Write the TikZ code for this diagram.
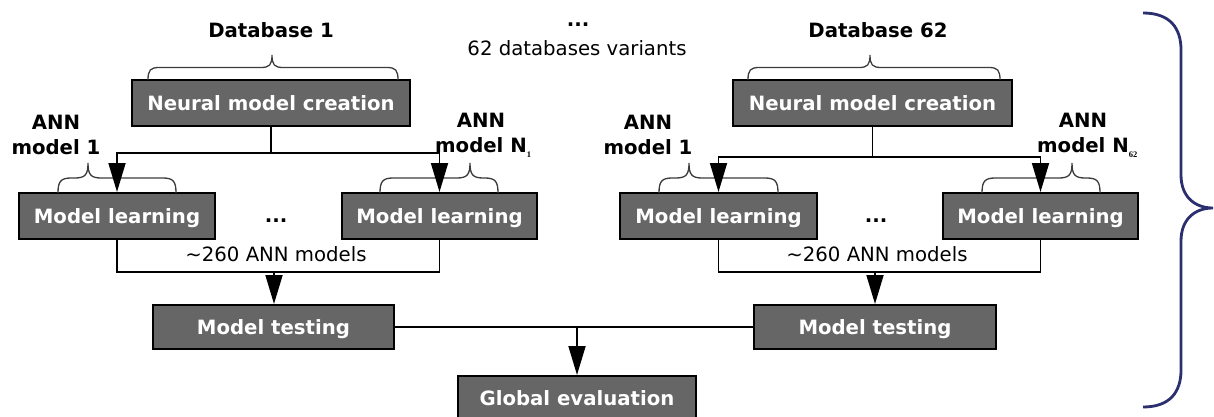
\documentclass[tikz,border=0pt]{standalone}
\usepackage{fontspec}
\setmainfont{DejaVu Sans}
\newfontfamily\subserif{Liberation Serif}
\usetikzlibrary{arrows.meta,calc}
\definecolor{boxgray}{HTML}{666666}
\definecolor{bracegray}{HTML}{3C3C3C}
\definecolor{navybrace}{HTML}{2B2F6E}

% horizontal curly brace opening downwards: x-left, x-tip, x-right, y-base, height
\newcommand{\drawcurly}[5]{%
  \draw[bracepen] (#1,#4)
    .. controls (#1,{#4-0.4*#5}) and ({#1+0.1*#5},{#4-0.5*#5}) .. ({#1+0.45*#5},{#4-0.5*#5})
    -- ({#2-0.45*#5},{#4-0.5*#5})
    .. controls ({#2-0.1*#5},{#4-0.5*#5}) and (#2,{#4-0.6*#5}) .. (#2,{#4-#5})
    .. controls (#2,{#4-0.6*#5}) and ({#2+0.1*#5},{#4-0.5*#5}) .. ({#2+0.45*#5},{#4-0.5*#5})
    -- ({#3-0.45*#5},{#4-0.5*#5})
    .. controls ({#3-0.1*#5},{#4-0.5*#5}) and (#3,{#4-0.4*#5}) .. (#3,#4);}

% small subscript index after a label
\newcommand{\subidx}[1]{\rlap{\raisebox{-5pt}{\subserif\fontsize{8.5}{8.5}\selectfont #1}}}

\begin{document}
\begin{tikzpicture}[x=1pt,y=-1pt,
  box/.style={draw=black, line width=2pt, fill=boxgray, text=white,
    font=\fontsize{19.7}{24}\selectfont\bfseries, inner sep=0pt,
    minimum height=46pt, text height=15pt, text depth=0pt},
  lbl/.style={font=\fontsize{19.7}{25}\selectfont\bfseries, inner sep=0pt, anchor=base},
  note/.style={font=\fontsize{19.7}{25}\selectfont, inner sep=0pt, anchor=base},
  annlbl/.style={font=\fontsize{19.7}{25}\selectfont\bfseries, inner sep=0pt, align=center},
  link/.style={line width=1.8pt},
  flow/.style={link, -{Triangle[length=29pt,width=17pt]}},
  bracepen/.style={bracegray, line width=1.3pt},
]
\useasboundingbox (0,0) rectangle (1214,417);

% process boxes
\node[box, minimum width=278pt] (nmcL) at (271,103) {Neural model creation};
\node[box, minimum width=279pt] (nmcR) at (872.5,103) {Neural model creation};
\node[box, minimum width=196pt] (mlA) at (117,216) {Model learning};
\node[box, minimum width=195pt] (mlB) at (439.5,216) {Model learning};
\node[box, minimum width=197pt] (mlC) at (718.5,216) {Model learning};
\node[box, minimum width=195pt] (mlD) at (1040.5,216) {Model learning};
\node[box, minimum width=241pt, minimum height=44pt] (mtL) at (273.5,327) {Model testing};
\node[box, minimum width=242pt, minimum height=44pt] (mtR) at (875,327) {Model testing};
\node[box, minimum width=238pt, minimum height=44pt] (ge) at (577,398) {Global evaluation};

% labels
\node[lbl] (db1) at (271,38) {Database 1};
\node[lbl] (db62) at (878,38) {Database 62};
\node[lbl] (dotsTop) at (578,27) {...};
\node[note] (variants) at (577,56) {62 databases variants};
\node[annlbl] (annA) at (56,135) {ANN\\model 1};
\node[annlbl] (annB) at (481,135) {ANN\\model N\subidx{1}};
\node[annlbl] (annC) at (648,135) {ANN\\model 1};
\node[annlbl] (annD) at (1083,135) {ANN\\model N\subidx{62}};
\node[lbl] (dotsL) at (276,222) {...};
\node[lbl] (dotsR) at (876,222) {...};
\node[note] (cntL) at (276,261) {\textasciitilde 260 ANN models};
\node[note] (cntR) at (877,261) {\textasciitilde 260 ANN models};

% braces
\drawcurly{148}{272}{398}{80}{25}
\drawcurly{748}{870}{1000}{80}{25}
\drawcurly{58}{88}{176}{193}{30}
\drawcurly{380}{470}{498}{193}{30}
\drawcurly{659}{689}{778}{193}{30}
\drawcurly{982}{1072}{1100}{193}{30}

% fork and join points
\coordinate (forkL) at (271,153);
\coordinate (forkR) at (872.5,157);
\coordinate (joinL) at (274,272);
\coordinate (joinR) at (875,272);
\coordinate (joinG) at (577,327);

% connectors
\draw[link] (nmcL) -- (forkL);
\draw[flow] (forkL) -| (mlA);
\draw[flow] (forkL) -| (mlB);
\draw[link] (nmcR) -- (forkR);
\draw[flow] (forkR) -| (mlC);
\draw[flow] (forkR) -| (mlD);

\draw[link] (mlA) |- (joinL);
\draw[link] (mlB) |- (joinL);
\draw[flow] (joinL) -- (joinL |- mtL.north);
\draw[link] (mlC) |- (joinR);
\draw[link] (mlD) |- (joinR);
\draw[flow] (joinR) -- (joinR |- mtR.north);

\draw[link] (mtL) -- (mtR);
\draw[flow] (joinG) -- (ge);

% enclosing brace on the right
\draw[navybrace, line width=2.8pt] (1143,13)
  .. controls (1170,13) and (1181,28) .. (1181,50) -- (1181,175)
  .. controls (1181,197) and (1195,208) .. (1213,208)
  .. controls (1195,208) and (1181,219) .. (1181,241) -- (1181,370)
  .. controls (1181,392) and (1170,407) .. (1143,407);
\end{tikzpicture}
\end{document}
